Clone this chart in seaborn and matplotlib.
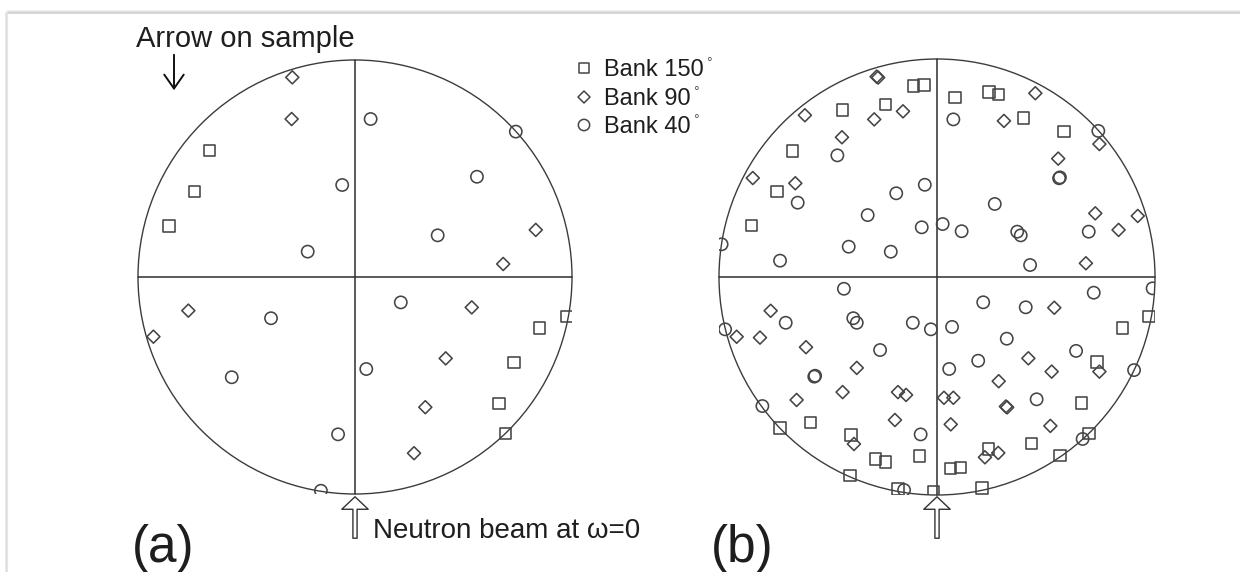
import matplotlib
matplotlib.use("Agg")
import matplotlib.pyplot as plt
import pandas as pd
import seaborn as sns
from matplotlib.patches import Circle, FancyArrowPatch
from matplotlib.lines import Line2D

# ---------------------------------------------------------------------------
# Detector positions on the pole figure (unit-circle coordinates)
# ---------------------------------------------------------------------------
bank_labels = ["Bank 150°", "Bank 90°", "Bank 40°"]
bank_markers = {"Bank 150°": "s", "Bank 90°": "D", "Bank 40°": "o"}
bank_sizes = {"Bank 150°": 68, "Bank 90°": 44, "Bank 40°": 78}

# (a) single sample orientation
a150_x = [-0.671, -0.739, -0.857, 0.978, 0.851, 0.733, 0.664, 0.694]
a150_y = [0.582, 0.393, 0.235, -0.183, -0.236, -0.393, -0.582, -0.720]
a90_x = [-0.289, -0.292, 0.833, 0.683, -0.768, -0.929, 0.538, 0.418, 0.324, 0.272]
a90_y = [0.920, 0.728, 0.217, 0.060, -0.155, -0.275, -0.140, -0.375, -0.600, -0.812]
a40_x = [0.072, 0.741, -0.059, 0.562, 0.381, -0.218, -0.387, -0.568, 0.211, 0.052, -0.078, -0.157]
a40_y = [0.728, 0.670, 0.424, 0.462, 0.192, 0.117, -0.190, -0.462, -0.117, -0.424, -0.725, -0.985]

# (b) combined sample orientations
b150_x = [-0.060, -0.109, -0.235, -0.433, -0.664, -0.733, -0.850, 0.083, 0.239, 0.283,
          0.396, 0.583, -0.720, -0.581, -0.394, -0.281, -0.235, -0.081, -0.399, -0.179,
          -0.017, 0.852, 0.972, 0.733, 0.664, 0.697, 0.433, 0.237, 0.564, 0.061,
          0.109, 0.206]
b150_y = [0.881, 0.876, 0.792, 0.766, 0.579, 0.391, 0.235, 0.824, 0.849, 0.838,
          0.729, 0.668, -0.693, -0.667, -0.725, -0.835, -0.849, -0.821, -0.911, -0.972,
          -0.985, -0.234, -0.182, -0.389, -0.577, -0.717, -0.763, -0.790, -0.820, -0.878,
          -0.873, -0.968]
b90_x = [-0.277, -0.270, -0.156, -0.288, -0.606, -0.436, -0.845, -0.650, 0.451, 0.307,
         0.745, 0.556, 0.726, 0.921, 0.833, 0.683, -0.763, -0.919, -0.812, -0.601,
         -0.368, -0.644, -0.433, -0.179, -0.142, -0.193, -0.381, 0.538, 0.419, 0.526,
         0.745, 0.283, 0.032, 0.075, 0.322, 0.316, 0.063, 0.520, 0.220, 0.281]
b90_y = [0.919, 0.915, 0.760, 0.723, 0.742, 0.641, 0.454, 0.430, 0.843, 0.716,
         0.610, 0.543, 0.292, 0.280, 0.216, 0.063, -0.155, -0.274, -0.278, -0.322,
         -0.417, -0.564, -0.528, -0.528, -0.541, -0.656, -0.766, -0.141, -0.373, -0.434,
         -0.434, -0.478, -0.554, -0.554, -0.598, -0.594, -0.676, -0.683, -0.827, -0.807]
b40_x = [-0.457, -0.639, -0.056, -0.187, -0.318, -0.070, -0.405, -0.212, -0.720, -0.988,
         0.075, 0.740, 0.564, 0.560, 0.265, 0.026, 0.113, 0.368, 0.384, 0.696,
         0.427, -0.427, -0.384, -0.368, -0.694, -0.111, -0.028, -0.972, -0.261, -0.563,
         -0.559, -0.801, -0.075, -0.151, 0.212, 0.407, 0.719, 0.989, 0.069, 0.320,
         0.638, 0.189, 0.056, 0.457, 0.904, 0.668]
b40_y = [0.558, 0.341, 0.423, 0.384, 0.284, 0.228, 0.139, 0.116, 0.075, 0.150,
         0.723, 0.670, 0.457, 0.453, 0.335, 0.243, 0.210, 0.208, 0.191, 0.208,
         0.055, -0.054, -0.189, -0.210, -0.210, -0.210, -0.240, -0.240, -0.335, -0.457,
         -0.453, -0.592, -0.722, -0.977, -0.116, -0.139, -0.072, -0.052, -0.229, -0.283,
         -0.339, -0.384, -0.422, -0.561, -0.427, -0.743]


def frame(panel, bank, xs, ys):
    return pd.DataFrame({"panel": panel, "bank": bank, "x": xs, "y": ys})


detectors = pd.concat([
    frame("a", "Bank 150°", a150_x, a150_y),
    frame("a", "Bank 90°", a90_x, a90_y),
    frame("a", "Bank 40°", a40_x, a40_y),
    frame("b", "Bank 150°", b150_x, b150_y),
    frame("b", "Bank 90°", b90_x, b90_y),
    frame("b", "Bank 40°", b40_x, b40_y),
], ignore_index=True)

# ---------------------------------------------------------------------------
# Figure
# ---------------------------------------------------------------------------
sns.set_theme(style="white")
plt.rcParams["font.family"] = ["Liberation Sans", "DejaVu Sans"]

W, H = 1240, 572
fig = plt.figure(figsize=(W / 100, H / 100), dpi=100, facecolor="white")

INK = "#454545"
LINE = "#2e2e2e"


def pole_axes(cx, cy, r):
    """Square axes centred on pixel (cx, cy) with radius r pixels."""
    return fig.add_axes([(cx - r) / W, (H - cy - r) / H, 2 * r / W, 2 * r / H])


def draw_pole_figure(ax, panel):
    ax.set_xlim(-1, 1)
    ax.set_ylim(-1, 1)
    ax.set_aspect("equal")
    ax.set_axis_off()
    ax.add_patch(Circle((0, 0), 1, fill=False, ec="#3c3c3c", lw=1.0, clip_on=False, zorder=2))
    ax.plot([-1, 1], [0, 0], color=LINE, lw=1.1, clip_on=False, zorder=2)
    ax.plot([0, 0], [-1, 1], color=LINE, lw=1.1, clip_on=False, zorder=2)
    sub = detectors[detectors["panel"] == panel]
    sns.scatterplot(data=sub, x="x", y="y", style="bank", markers=bank_markers,
                    size="bank", sizes=bank_sizes, facecolor="none",
                    edgecolor=INK, linewidth=1.15, legend=False, ax=ax, zorder=3)
    ax.set_xlabel("")
    ax.set_ylabel("")


ax_a = pole_axes(355, 277, 217)
draw_pole_figure(ax_a, "a")
ax_b = pole_axes(937, 277, 218)
draw_pole_figure(ax_b, "b")

# Overlay in pixel units for annotations
ov = fig.add_axes([0, 0, 1, 1], zorder=5)
ov.set_xlim(0, W)
ov.set_ylim(H, 0)
ov.set_axis_off()
ov.patch.set_alpha(0)

# card edge shadow
for off, col in [(0, "#f1f1f1"), (1, "#e2e2e2"), (2, "#d2d2d2"), (3, "#dcdcdc")]:
    ov.add_line(Line2D([7, W], [10 + off, 10 + off], color=col, lw=0.8))
for off, col in [(0, "#eeeeee"), (1, "#dadada"), (2, "#e6e6e6")]:
    ov.add_line(Line2D([5 + off, 5 + off], [12, H], color=col, lw=0.8))

TXT = "#1e1e1e"
ov.text(136, 47, "Arrow on sample", fontsize=21, color=TXT, va="baseline", ha="left")
ov.add_patch(FancyArrowPatch((174, 52), (174, 93), arrowstyle="->,head_length=0.5,head_width=0.35",
                             mutation_scale=20, color="#111111", lw=1.4))

# legend
legend_rows = [68, 97, 125]
for bank, yy in zip(bank_labels, legend_rows):
    ov.scatter([584], [yy], marker=bank_markers[bank], s=bank_sizes[bank] * 0.85,
               facecolor="none", edgecolor=INK, linewidths=1.1)
    name, deg = bank[:-1], bank[-1]
    t = ov.text(604, yy + 8, name, fontsize=17, color=TXT, va="baseline", ha="left")
    ov.annotate(deg, xy=(1, 1), xycoords=t, xytext=(1.5, -6), textcoords="offset points",
                fontsize=10, color="#555555", va="baseline", ha="left")

# neutron beam arrows
for bx in (355, 937):
    ov.add_patch(FancyArrowPatch((bx, 541), (bx, 494),
                                 arrowstyle="simple,head_length=9,head_width=19,tail_width=3",
                                 mutation_scale=1, fc="white", ec="#333333", lw=1.0))
ov.text(373, 538, "Neutron beam at ω=0", fontsize=20, color=TXT, va="baseline", ha="left")

ov.text(132, 562, "(a)", fontsize=37, color=TXT, va="baseline", ha="left")
ov.text(711, 562, "(b)", fontsize=37, color=TXT, va="baseline", ha="left")

fig.savefig("out.png", dpi=100, facecolor="white")
